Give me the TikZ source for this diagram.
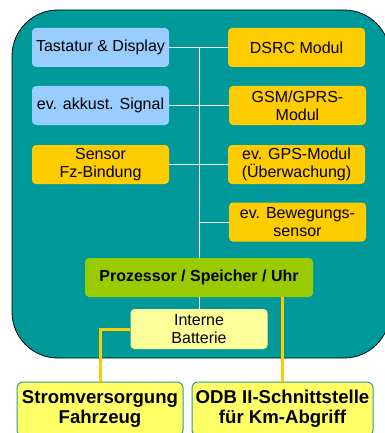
\documentclass[tikz,border=0pt]{standalone}
\usepackage{fontspec}
\setmainfont{Liberation Sans}
\definecolor{tealmain}{HTML}{009999}
\definecolor{lblue}{HTML}{99CCFF}
\definecolor{orangebox}{HTML}{FFCC00}
\definecolor{greenbox}{HTML}{99CC00}
\definecolor{lyellow}{HTML}{FFFF99}
\definecolor{byellow}{HTML}{FFFF66}
\definecolor{bborder}{HTML}{339999}
\begin{document}
\begin{tikzpicture}[x=1pt,y=-1pt,
  box/.style={rounded corners=4pt, minimum width=137pt, minimum height=39pt, inner sep=0pt, align=center, font=\fontsize{16}{18}\selectfont, text=black},
  bluebox/.style={box, fill=lblue},
  orbox/.style={box, fill=orangebox},
  bottombox/.style={rounded corners=6pt, draw=bborder, line width=1pt, fill=byellow, minimum height=54pt, inner sep=0pt, align=center, font=\fontsize{18.6}{20}\selectfont\bfseries, text=black},
  wline/.style={draw=white, line width=1pt},
  oline/.style={draw=orangebox, line width=3pt}]
\useasboundingbox (0,0) rectangle (384,433);
\draw[fill=tealmain, draw=black, line width=0.8pt, rounded corners=46pt] (12,10) rectangle (390,358);
% left boxes
\node[bluebox] (tast) at (100.5,47.5) {Tastatur \& Display};
\node[bluebox] (akk) at (100.5,105.5) {ev. akkust. Signal};
\node[orbox] (sens) at (100.5,164.5) {Sensor\\Fz-Bindung};
% right boxes
\node[orbox] (dsrc) at (296.5,47.5) {DSRC Modul};
\node[orbox] (gsm) at (297.5,105.5) {GSM/GPRS-\\Modul};
\node[orbox] (gps) at (296.5,164.5) {ev. GPS-Modul\\(Überwachung)};
\node[orbox] (bew) at (297.5,222) {ev. Bewegungs-\\sensor};
% processor and battery
\node[box, fill=greenbox, minimum width=228pt, font=\fontsize{16}{18}\selectfont\bfseries] (proz) at (199,277.5) {Prozessor / Speicher / Uhr};
\node[box, fill=lyellow, minimum height=40pt] (batt) at (199,329) {Interne\\Batterie};
% bottom boxes
\node[bottombox, minimum width=166pt] (strom) at (100,409) {Stromversorgung\\Fahrzeug};
\node[bottombox, minimum width=181pt] (odb) at (282.5,409) {ODB II-Schnittstelle\\für Km-Abgriff};
% white bus
\coordinate (bustop) at (199,47.5);
\draw[wline] (bustop) -- (proz.north);
\foreach \n in {tast,akk,sens} { \draw[wline] (\n.east) -- (\n.east -| bustop); }
\foreach \n in {dsrc,gsm,gps,bew} { \draw[wline] (\n.west) -- (\n.west -| bustop); }
\draw[wline] (proz.south) -- (batt.north);
% orange lines
\draw[oline] (batt.west) -| (strom.north);
\draw[oline] (proz.south -| odb.north) -- (odb.north);
\end{tikzpicture}
\end{document}
